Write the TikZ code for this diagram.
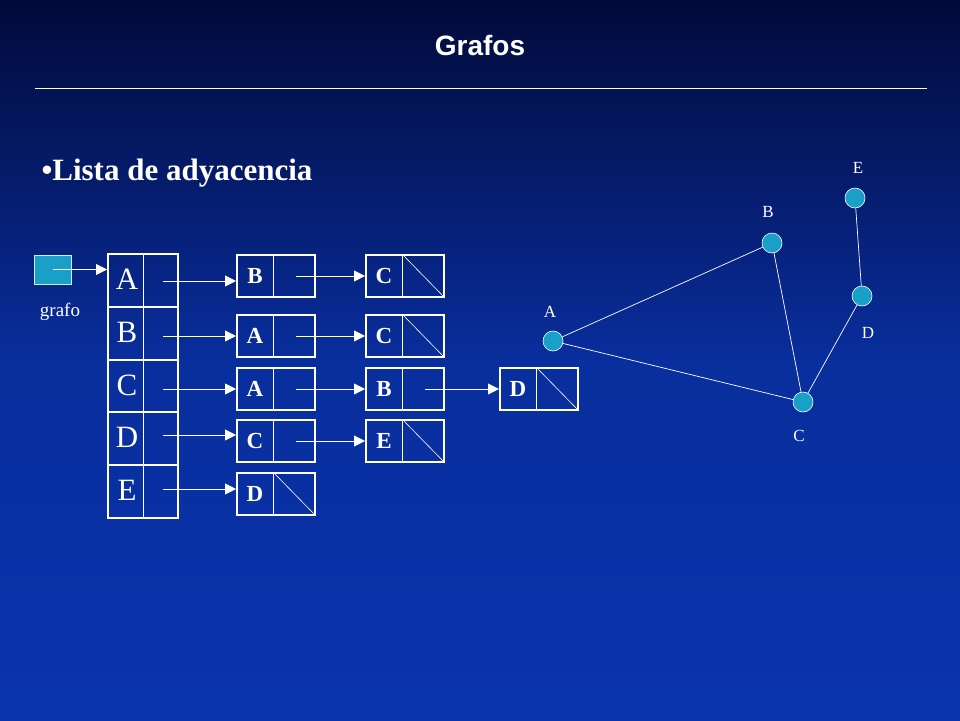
\documentclass[tikz,border=0pt]{standalone}
\usepackage{fontspec}
\setmainfont{Liberation Serif}
\newfontfamily\titlefont{Liberation Sans}
\usetikzlibrary{arrows.meta}
\definecolor{bgtop}{HTML}{020A3A}
\definecolor{bgbot}{HTML}{0A34AE}
\definecolor{vert}{HTML}{1AA0C8}
\tikzset{
 cellbox/.style={draw=white,line width=2pt,minimum width=78pt,minimum height=42pt,inner sep=0pt},
 arr/.style={white,line width=0.8pt,-{Triangle[length=11pt,width=11pt]}},
 vtx/.style={circle,fill=vert,draw=white,line width=0.6pt,minimum size=20pt,inner sep=0pt},
 edge/.style={white,line width=0.7pt},
 lbl/.style={text=white,font=\fontsize{17}{17}\selectfont},
}
\newcommand{\mycell}[5]{%
 \node[cellbox] (#1) at (#2,#3) {};
 \draw[white,line width=1pt] ([xshift=-3pt]#1.north) -- ([xshift=-3pt]#1.south);
 \node[text=white,font=\fontsize{23}{23}\selectfont\bfseries] at ([xshift=-21pt]#1.center) {#4};
 \ifx#5y\draw[white,line width=0.6pt] ([xshift=-3pt]#1.north) -- (#1.south east);\fi
}
\begin{document}
\begin{tikzpicture}[x=1pt,y=-1pt]
\shade[top color=bgtop,bottom color=bgbot,middle color=bgbot!85!bgtop] (0,0) rectangle (960,720);
\useasboundingbox (0,0) rectangle (960,720);
\node[text=white,font=\titlefont\bfseries\fontsize{28}{28}\selectfont] (title) at (480,45) {Grafos};
\draw[white,line width=0.6pt] (35,88) -- (927,88);
\node[text=white,anchor=west,font=\bfseries\fontsize{31}{31}\selectfont] (bul) at (38,173) {•Lista de adyacencia};
% grafo
\node[fill=vert,draw=white!80!vert,line width=0.6pt,minimum width=37pt,minimum height=29pt,inner sep=0pt] (g) at (52.5,269.5) {};
\node[text=white,font=\fontsize{19}{19}\selectfont] (glab) at (60,312) {grafo};
% array
\foreach \l [count=\i] in {A,B,C,D,E}{
 \node[draw=white,line width=2pt,minimum width=70pt,minimum height=52.8pt,inner sep=0pt] (r\l) at (143,{254+52.8*(\i-0.5)}) {};
 \node[text=white,font=\fontsize{31}{31}\selectfont] at ([xshift=-16pt,yshift=1pt]r\l.center) {\l};
}
\draw[white,line width=1pt] (143,254) -- (143,518);
\draw[arr] (g.center) -- (rA.west|-g.center);
% cells
\mycell{a1}{276}{276}{B}{n}
\mycell{a2}{405}{276}{C}{y}
\mycell{b1}{276}{336}{A}{n}
\mycell{b2}{405}{336}{C}{y}
\mycell{c1}{276}{389}{A}{n}
\mycell{c2}{405}{389}{B}{n}
\mycell{c3}{539}{389}{D}{y}
\mycell{d1}{276}{441}{C}{n}
\mycell{d2}{405}{441}{E}{y}
\mycell{e1}{276}{494}{D}{y}
\foreach \r/\y in {A/281,B/336,C/389,D/435,E/489}{
 \coordinate (s\r) at (163,\y);
}
\draw[arr] (sA) -- (a1.west|-sA);
\draw[arr] (sB) -- (b1.west|-sB);
\draw[arr] (sC) -- (c1.west|-sC);
\draw[arr] (sD) -- (d1.west|-sD);
\draw[arr] (sE) -- (e1.west|-sE);
\draw[arr] ([xshift=20pt]a1.center) -- (a2.west);
\draw[arr] ([xshift=20pt]b1.center) -- (b2.west);
\draw[arr] ([xshift=20pt]c1.center) -- (c2.west);
\draw[arr] ([xshift=20pt]c2.center) -- (c3.west);
\draw[arr] ([xshift=20pt]d1.center) -- (d2.west);
% graph
\node[vtx] (A) at (553,341) {};
\node[vtx] (B) at (772,243) {};
\node[vtx] (C) at (803,402) {};
\node[vtx] (D) at (862,296) {};
\node[vtx] (E) at (855,198) {};
\draw[edge] (A) -- (B);
\draw[edge] (A) -- (C);
\draw[edge] (B) -- (C);
\draw[edge] (C) -- (D);
\draw[edge] (D) -- (E);
\node[lbl] (lA) at (550,312) {A};
\node[lbl] (lB) at (768,212) {B};
\node[lbl] (lC) at (799,436) {C};
\node[lbl] (lD) at (868,333) {D};
\node[lbl] (lE) at (858,168) {E};
\end{tikzpicture}
\end{document}
